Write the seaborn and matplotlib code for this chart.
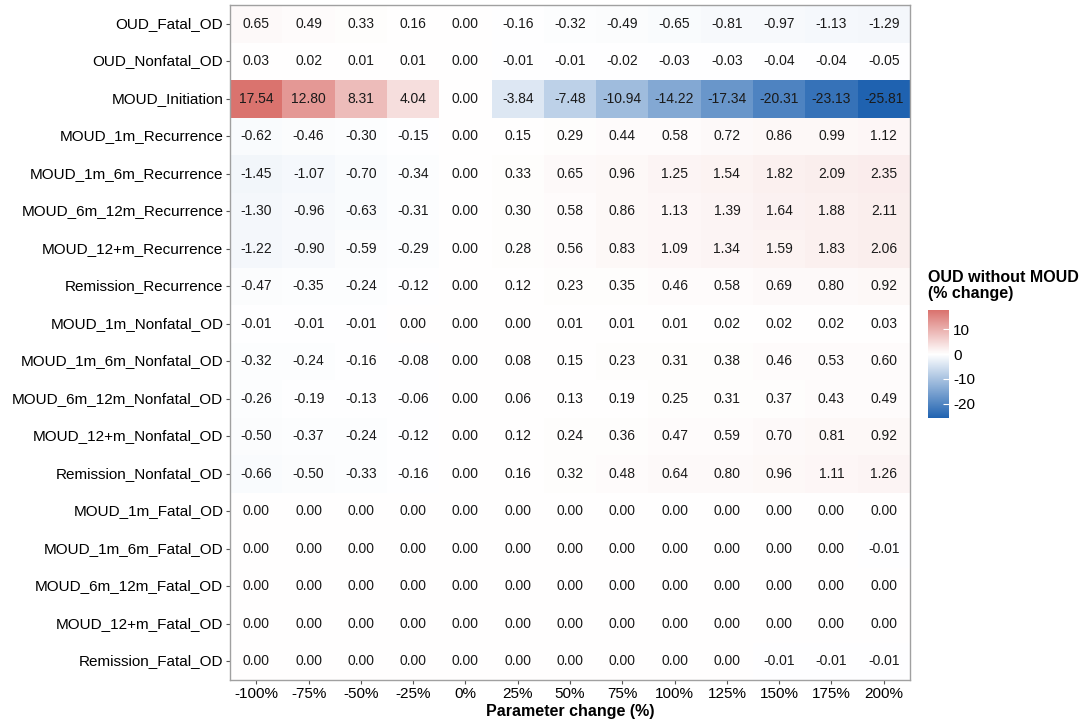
import numpy as np
import pandas as pd
import matplotlib
matplotlib.use("Agg")
import matplotlib.pyplot as plt
import seaborn as sns
from matplotlib.colors import LinearSegmentedColormap, Normalize

# parameter changes (columns) and outcomes (rows)
param_change = ["-100%", "-75%", "-50%", "-25%", "0%", "25%", "50%", "75%",
                "100%", "125%", "150%", "175%", "200%"]
parameters = ["OUD_Fatal_OD", "OUD_Nonfatal_OD", "MOUD_Initiation",
              "MOUD_1m_Recurrence", "MOUD_1m_6m_Recurrence", "MOUD_6m_12m_Recurrence",
              "MOUD_12+m_Recurrence", "Remission_Recurrence", "MOUD_1m_Nonfatal_OD",
              "MOUD_1m_6m_Nonfatal_OD", "MOUD_6m_12m_Nonfatal_OD", "MOUD_12+m_Nonfatal_OD",
              "Remission_Nonfatal_OD", "MOUD_1m_Fatal_OD", "MOUD_1m_6m_Fatal_OD",
              "MOUD_6m_12m_Fatal_OD", "MOUD_12+m_Fatal_OD", "Remission_Fatal_OD"]

oud_fatal = [0.65, 0.49, 0.33, 0.16, 0.00, -0.16, -0.32, -0.49, -0.65, -0.81, -0.97, -1.13, -1.29]
oud_nonfatal = [0.03, 0.02, 0.01, 0.01, 0.00, -0.01, -0.01, -0.02, -0.03, -0.03, -0.04, -0.04, -0.05]
moud_init = [17.54, 12.80, 8.31, 4.04, 0.00, -3.84, -7.48, -10.94, -14.22, -17.34, -20.31, -23.13, -25.81]
rec_1m = [-0.62, -0.46, -0.30, -0.15, 0.00, 0.15, 0.29, 0.44, 0.58, 0.72, 0.86, 0.99, 1.12]
rec_1m_6m = [-1.45, -1.07, -0.70, -0.34, 0.00, 0.33, 0.65, 0.96, 1.25, 1.54, 1.82, 2.09, 2.35]
rec_6m_12m = [-1.30, -0.96, -0.63, -0.31, 0.00, 0.30, 0.58, 0.86, 1.13, 1.39, 1.64, 1.88, 2.11]
rec_12m = [-1.22, -0.90, -0.59, -0.29, 0.00, 0.28, 0.56, 0.83, 1.09, 1.34, 1.59, 1.83, 2.06]
rec_remission = [-0.47, -0.35, -0.24, -0.12, 0.00, 0.12, 0.23, 0.35, 0.46, 0.58, 0.69, 0.80, 0.92]
nf_1m = [-0.01, -0.01, -0.01, 0.00, 0.00, 0.00, 0.01, 0.01, 0.01, 0.02, 0.02, 0.02, 0.03]
nf_1m_6m = [-0.32, -0.24, -0.16, -0.08, 0.00, 0.08, 0.15, 0.23, 0.31, 0.38, 0.46, 0.53, 0.60]
nf_6m_12m = [-0.26, -0.19, -0.13, -0.06, 0.00, 0.06, 0.13, 0.19, 0.25, 0.31, 0.37, 0.43, 0.49]
nf_12m = [-0.50, -0.37, -0.24, -0.12, 0.00, 0.12, 0.24, 0.36, 0.47, 0.59, 0.70, 0.81, 0.92]
nf_remission = [-0.66, -0.50, -0.33, -0.16, 0.00, 0.16, 0.32, 0.48, 0.64, 0.80, 0.96, 1.11, 1.26]
f_1m = [0.00] * 13
f_1m_6m = [0.00] * 12 + [-0.01]
f_6m_12m = [0.00] * 13
f_12m = [0.00] * 13
f_remission = [0.00] * 10 + [-0.01, -0.01, -0.01]

rows = [oud_fatal, oud_nonfatal, moud_init, rec_1m, rec_1m_6m, rec_6m_12m, rec_12m,
        rec_remission, nf_1m, nf_1m_6m, nf_6m_12m, nf_12m, nf_remission,
        f_1m, f_1m_6m, f_6m_12m, f_12m, f_remission]
df = pd.DataFrame(rows, index=parameters, columns=param_change)

plt.rcParams['font.family'] = ['Liberation Sans', 'DejaVu Sans']
plt.rcParams['axes.unicode_minus'] = False

cmap = LinearSegmentedColormap.from_list("bwr2", ["#1f62b0", "#ffffff", "#c8302a"])
lim = np.abs(df.values).max()
norm = Normalize(vmin=-lim, vmax=lim)

fig = plt.figure(figsize=(10.91, 7.25), dpi=100)
ax = fig.add_axes([0.211, 0.062, 0.623, 0.931])
cax = fig.add_axes([0.851, 0.423, 0.019, 0.149])

sns.heatmap(df, ax=ax, cmap=cmap, norm=norm, annot=True, fmt=".2f",
            annot_kws={"fontsize": 10, "color": "#1a1a1a"},
            cbar_ax=cax, cbar_kws={"ticks": [10, 0, -10, -20]})

for s in ax.spines.values():
    s.set_visible(True)
    s.set_color("#a0a0a0")
    s.set_linewidth(1.0)

ax.set_xlabel("Parameter change (%)", fontsize=11.5, fontweight="bold", labelpad=2)
ax.set_ylabel("")
ax.tick_params(axis="both", length=3, color="#555555", width=0.8, labelsize=11, pad=2)
plt.setp(ax.get_yticklabels(), rotation=0)
plt.setp(ax.get_xticklabels(), rotation=0)

cbar = ax.collections[0].colorbar
cbar.ax.set_ylim(df.values.min(), df.values.max())
cbar.outline.set_visible(False)
cbar.ax.tick_params(length=4, color="white", width=0.8, labelsize=11, pad=3, direction="in")
fig.text(0.851, 0.585, "OUD without MOUD\n(% change)", fontsize=11.5,
         fontweight="bold", ha="left", va="bottom", linespacing=1.05)

fig.savefig("out.png", dpi=100)
